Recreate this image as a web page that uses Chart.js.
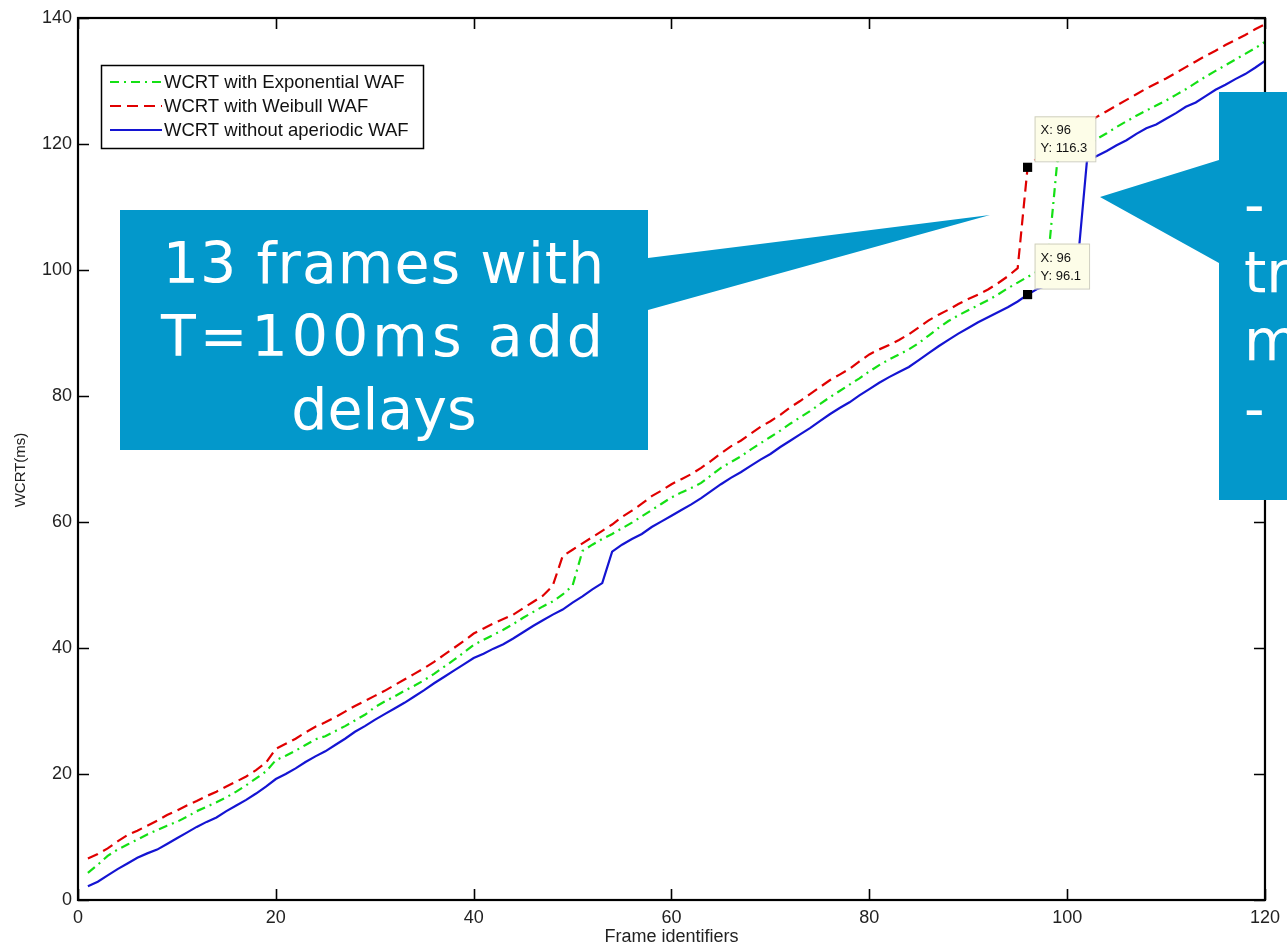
<!DOCTYPE html>
<html><head><meta charset="utf-8">
<script src="https://cdn.jsdelivr.net/npm/chart.js@4.4.0/dist/chart.umd.min.js"></script>
<style>
html,body{margin:0;padding:0;background:#fff;overflow:hidden}
#wrap{position:relative;width:1287px;height:948px;overflow:hidden}
#c{position:absolute;left:0;top:0}
#shapes{position:absolute;left:0;top:0}
.ct{position:absolute;color:#fff;font-family:"DejaVu Sans",Verdana,sans-serif;font-size:57px;line-height:73px;white-space:nowrap}
.gap{display:inline-block;width:60px}
</style></head><body>
<div id="wrap">
<canvas id="c" width="1287" height="948"></canvas>
<svg id="shapes" width="1287" height="948">
  <path d="M120,210 L648,210 L648,258 L990,215 L648,310 L648,450 L120,450 Z" fill="#0398CB"/>
  <path d="M1219,92 L1290,92 L1290,500 L1219,500 L1219,263 L1100,197 L1219,160 Z" fill="#0398CB"/>
</svg>
<div class="ct" id="t1" style="left:120px;top:227px;width:528px;text-align:center"><span style="letter-spacing:1px">13 frames with</span><br><span style="letter-spacing:4px">T=100ms add</span><br>delays</div>
<div class="ct" id="t2" style="left:1244px;top:170px;line-height:68px;text-align:left">-<span class="gap"></span>Jitter in<br>transmission<br>may be larger<br>-<span class="gap"></span>more delays</div>
</div>
<script>
const frames = [1,2,3,4,5,6,7,8,9,10,11,12,13,14,15,16,17,18,19,20,21,22,23,24,25,26,27,28,29,30,31,32,33,34,35,36,37,38,39,40,41,42,43,44,45,46,47,48,49,50,51,52,53,54,55,56,57,58,59,60,61,62,63,64,65,66,67,68,69,70,71,72,73,74,75,76,77,78,79,80,81,82,83,84,85,86,87,88,89,90,91,92,93,94,95,96,97,98,99,100,101,102,103,104,105,106,107,108,109,110,111,112,113,114,115,116,117,118,119,120];

const wcrtExponential = [4.3,5.6,7.0,8.0,8.8,9.6,10.4,11.1,11.8,12.4,13.2,14.1,14.8,15.5,16.3,17.2,18.2,19.3,20.4,22.2,22.9,23.7,24.6,25.5,26.0,26.8,27.6,28.5,29.4,30.6,31.5,32.3,33.2,34.0,34.9,35.9,37.0,38.1,39.3,40.5,41.3,42.1,42.9,43.8,44.8,45.7,46.6,47.4,48.5,49.9,55.4,56.4,57.3,58.1,59.0,59.9,60.9,61.9,62.9,63.9,64.7,65.4,66.2,67.4,68.6,69.5,70.4,71.5,72.5,73.5,74.5,75.6,76.6,77.6,78.7,79.8,80.8,81.8,82.8,83.9,84.9,85.8,86.6,87.4,88.4,89.6,90.8,91.9,92.8,93.6,94.4,95.2,96.1,97.1,98.0,98.9,99.8,100.6,117.2,118.1,119.0,119.8,120.8,121.7,122.7,123.6,124.5,125.3,126.1,126.9,127.8,128.7,129.7,130.7,131.6,132.5,133.4,134.3,135.2,136.2];

const wcrtWeibull = [6.6,7.3,8.2,9.3,10.3,11.0,11.8,12.6,13.5,14.2,15.0,15.7,16.5,17.2,18.0,18.8,19.6,20.6,21.8,24.0,24.8,25.6,26.6,27.5,28.2,29.0,29.9,30.8,31.6,32.4,33.2,34.1,35.0,35.9,36.8,37.8,38.9,40.0,41.1,42.3,43.1,43.9,44.6,45.3,46.3,47.3,48.3,49.9,54.6,55.6,56.6,57.6,58.6,59.6,60.8,61.8,62.9,64.1,65.0,66.0,66.8,67.6,68.6,69.7,70.9,72.0,72.9,74.0,75.1,76.0,77.0,78.2,79.2,80.3,81.4,82.5,83.4,84.3,85.5,86.6,87.4,88.1,88.9,89.8,90.9,92.0,92.9,93.7,94.6,95.4,96.1,96.9,97.9,99.0,100.3,116.3,117.8,119.0,120.2,121.3,122.4,123.4,124.3,125.2,126.1,127.0,127.9,128.8,129.6,130.4,131.3,132.2,133.1,134.0,134.8,135.7,136.5,137.3,138.2,139.0];

const wcrtNoAperiodic = [2.2,2.9,3.9,4.9,5.8,6.7,7.4,8.0,8.9,9.8,10.7,11.6,12.4,13.1,14.1,15.0,15.9,16.9,18.0,19.2,20.0,20.9,21.9,22.8,23.6,24.6,25.6,26.7,27.6,28.6,29.5,30.4,31.3,32.3,33.3,34.4,35.4,36.4,37.4,38.4,39.1,39.9,40.6,41.5,42.5,43.5,44.4,45.3,46.1,47.2,48.2,49.3,50.3,55.3,56.4,57.3,58.1,59.2,60.1,61.0,61.9,62.8,63.8,64.9,66.0,67.0,67.9,68.9,69.9,70.8,71.9,72.9,73.9,74.9,76.0,77.1,78.1,79.0,80.1,81.1,82.1,83.0,83.8,84.6,85.7,86.8,87.9,88.9,89.9,90.8,91.7,92.5,93.3,94.1,95.0,96.1,97.0,97.6,98.3,99.0,100.0,117.3,118.1,118.9,119.8,120.6,121.6,122.5,123.1,124.0,124.9,125.9,126.6,127.6,128.6,129.4,130.3,131.1,132.1,133.2];

const seriesNames = ['WCRT with Exponential WAF','WCRT with Weibull WAF','WCRT without aperiodic WAF'];
const xTicks = [0,20,40,60,80,100,120];
const yTicks = [0,20,40,60,80,100,120,140];
const tipX = [96,96];
const tipY = [116.3,96.1];
const yTitle = 'WCRT(ms)';

const GREEN='#14e014', RED='#e00000', BLUE='#1414d2';
const DASHES=[[9,5,2,5],[11,6],[]];
const COLORS=[GREEN,RED,BLUE];
const FONT='"Liberation Sans", Arial, sans-serif';

function pts(arr){ return frames.map((f,i)=>({x:f,y:arr[i]})); }

const framePlugin = {
  id:'framePlugin',
  afterDatasetsDraw(chart){
    const {ctx, chartArea:a, scales:{x,y}} = chart;
    ctx.save();
    ctx.strokeStyle='#000'; ctx.lineWidth=1.6;
    ctx.beginPath();
    xTicks.forEach(v=>{const p=Math.round(x.getPixelForValue(v))+0.5;
      ctx.moveTo(p,a.bottom); ctx.lineTo(p,a.bottom-11);
      ctx.moveTo(p,a.top); ctx.lineTo(p,a.top+11);});
    yTicks.forEach(v=>{const p=Math.round(y.getPixelForValue(v))+0.5;
      ctx.moveTo(a.left,p); ctx.lineTo(a.left+11,p);
      ctx.moveTo(a.right,p); ctx.lineTo(a.right-11,p);});
    ctx.stroke();
    ctx.lineWidth=2.2;
    ctx.strokeRect(a.left,a.top,a.right-a.left,a.bottom-a.top);

    // y axis title
    ctx.save();
    ctx.translate(21, (a.top+a.bottom)/2+11);
    ctx.rotate(-Math.PI/2);
    ctx.font='15px '+FONT; ctx.fillStyle='#222';
    ctx.textAlign='center'; ctx.textBaseline='middle';
    ctx.fillText(yTitle,0,0);
    ctx.restore();

    // legend
    const lx=101, ly=65, lw=322, lh=83;
    ctx.fillStyle='#fff'; ctx.fillRect(lx,ly,lw,lh);
    ctx.strokeStyle='#000'; ctx.lineWidth=1.5; ctx.strokeRect(lx+0.5,ly+0.5,lw,lh);
    const rows=[82,106,130];
    ctx.font='18.5px '+FONT;
    ctx.textBaseline='middle';
    seriesNames.forEach((n,i)=>{
      ctx.setLineDash(DASHES[i]); ctx.strokeStyle=COLORS[i]; ctx.lineWidth=2.2;
      ctx.beginPath(); ctx.moveTo(110,rows[i]); ctx.lineTo(162,rows[i]); ctx.stroke();
      ctx.setLineDash([]);
      ctx.fillStyle='#111'; ctx.fillText(n,164,rows[i]+1);
    });

    // data tips
    ctx.font='13px '+FONT;
    ctx.textBaseline='alphabetic';
    tipX.forEach((tx,i)=>{
      const px=x.getPixelForValue(tx), py=y.getPixelForValue(tipY[i]);
      const l1='X: '+tx, l2='Y: '+tipY[i].toFixed(1);
      const w=Math.max(ctx.measureText(l1).width,ctx.measureText(l2).width)+14;
      const bx=px+7, by=py-51, bh=45;
      ctx.fillStyle='#fdfde8'; ctx.fillRect(bx,by,w,bh);
      ctx.strokeStyle='#cfcfc0'; ctx.lineWidth=1; ctx.strokeRect(bx+0.5,by+0.5,w,bh);
      ctx.fillStyle='#111';
      ctx.fillText(l1,bx+6,by+18);
      ctx.fillText(l2,bx+6,by+36);
    });
    ctx.restore();
  }
};

new Chart(document.getElementById('c'),{
  type:'line',
  data:{datasets:[
    {label:seriesNames[0],data:pts(wcrtExponential),borderColor:GREEN,borderWidth:2.2,borderDash:DASHES[0],pointRadius:0,fill:false,tension:0},
    {label:seriesNames[1],data:pts(wcrtWeibull),borderColor:RED,borderWidth:2.2,borderDash:DASHES[1],pointRadius:0,fill:false,tension:0},
    {label:seriesNames[2],data:pts(wcrtNoAperiodic),borderColor:BLUE,borderWidth:2.2,pointRadius:0,fill:false,tension:0},
    {type:'scatter',label:'tips',order:-1,data:tipX.map((v,i)=>({x:v,y:tipY[i]})),pointStyle:'rect',rotation:0,pointRadius:6.5,backgroundColor:'#000',borderColor:'#000',borderWidth:0}
  ]},
  options:{
    responsive:false, animation:false, devicePixelRatio:1,
    layout:{padding:{top:18,right:17,left:0,bottom:0}},
    plugins:{legend:{display:false},tooltip:{enabled:false}},
    scales:{
      x:{type:'linear',min:0,max:120,
        afterFit(s){s.height=48;},
        afterBuildTicks(s){s.ticks=xTicks.map(v=>({value:v}));},
        grid:{display:false,drawTicks:false},border:{display:false},
        ticks:{padding:7,color:'#222',font:{family:FONT,size:18},maxRotation:0},
        title:{display:true,text:'Frame identifiers',color:'#222',padding:{top:0,bottom:0},font:{family:FONT,size:18}}
      },
      y:{type:'linear',min:0,max:140,
        afterFit(s){s.width=78;},
        afterBuildTicks(s){s.ticks=yTicks.map(v=>({value:v}));},
        grid:{display:false,drawTicks:false},border:{display:false},
        ticks:{padding:6,color:'#222',font:{family:FONT,size:18}},
        title:{display:false}
      }
    }
  },
  plugins:[framePlugin]
});
</script>
</body></html>
